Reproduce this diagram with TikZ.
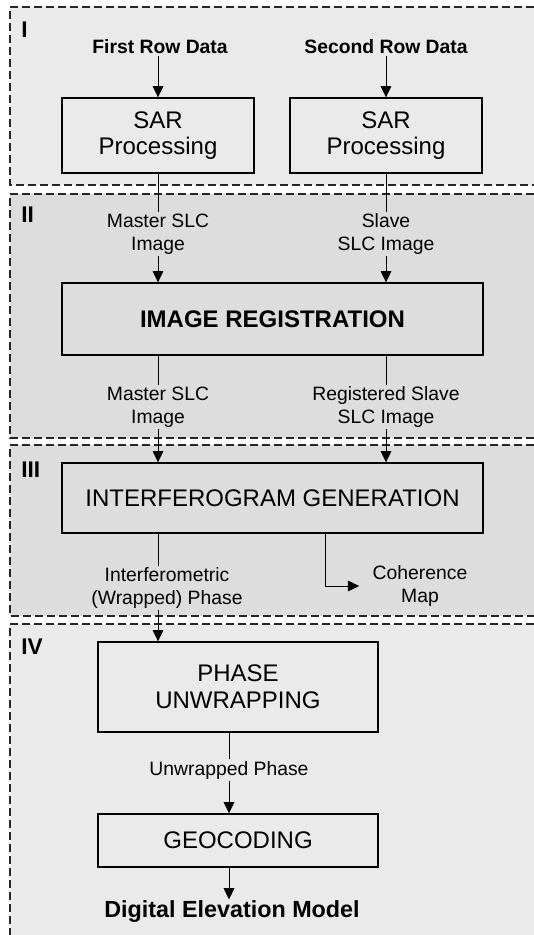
\documentclass[tikz,border=0pt]{standalone}
\usepackage{fontspec}
\setmainfont{Liberation Sans}
\usetikzlibrary{arrows.meta,positioning,calc}
\definecolor{panellight}{RGB}{234,234,234}
\definecolor{paneldark}{RGB}{221,221,221}

\begin{document}
\begin{tikzpicture}[x=0.75pt,y=-0.75pt,>={Triangle[length=8.5pt,width=8pt]},
    box/.style={draw,line width=1pt,inner sep=0pt,align=center,font=\fontsize{18}{20}\selectfont},
    lbl/.style={align=center,inner sep=1pt,font=\fontsize{14.5}{17}\selectfont},
    flow/.style={->,line width=0.75pt},
    link/.style={line width=0.75pt},
    panel/.style={draw=black!85,dash pattern=on 6pt off 3pt,line width=0.9pt},
    num/.style={anchor=north west,inner sep=0pt,font=\fontsize{17}{19}\selectfont\bfseries}]
    \useasboundingbox (0,0) rectangle (534,935);

    % the four stages, open to the right
    \fill[panellight] (10,7) rectangle (534,185);
    \fill[paneldark] (10,194) rectangle (534,438);
    \fill[paneldark] (10,445) rectangle (534,616);
    \fill[panellight] (10,624) rectangle (534,935);
    \draw[panel] (534,7) -| (10,185) -- (534,185);
    \draw[panel] (534,194) -| (10,438) -- (534,438);
    \draw[panel] (534,445) -| (10,616) -- (534,616);
    \draw[panel] (534,624) -| (10,935);
    \node[num] (st1) at (21,22) {I};
    \node[num] (st2) at (21,207) {II};
    \node[num] (st3) at (21,462) {III};
    \node[num] (st4) at (21,639) {IV};

    % I: SAR processing
    \node[lbl,font=\fontsize{14.5}{17}\selectfont\bfseries] (first) at (160,47) {First Row Data};
    \node[lbl,font=\fontsize{14.5}{17}\selectfont\bfseries] (second) at (386,47) {Second Row Data};
    \node[box,minimum width=144pt,minimum height=56.25pt] (sar1) at (158,135.5) {SAR\\Processing};
    \node[box,minimum width=144pt,minimum height=56.25pt] (sar2) at (386,135.5) {SAR\\Processing};
    \draw[flow] (sar1.north |- first.south) -- (sar1.north);
    \draw[flow] (sar2.north |- second.south) -- (sar2.north);

    % II: registration
    \node[lbl] (master1) at (158,234) {Master SLC\\Image};
    \node[lbl] (slave1) at (386,234) {Slave\\SLC Image};
    \node[box,font=\fontsize{18}{20}\selectfont\bfseries,minimum width=315.75pt,minimum height=54pt] (reg) at (272.5,319) {IMAGE REGISTRATION};
    \draw[link] (sar1.south) -- (master1.north);
    \draw[link] (sar2.south) -- (slave1.north);
    \draw[flow] (master1.south) -- (master1.south |- reg.north);
    \draw[flow] (slave1.south) -- (slave1.south |- reg.north);
    \node[lbl] (master2) at (158,407) {Master SLC\\Image};
    \node[lbl] (regslave) at (386,407) {Registered Slave\\SLC Image};
    \draw[link] (reg.south -| master2.north) -- (master2.north);
    \draw[link] (reg.south -| regslave.north) -- (regslave.north);

    % III: interferogram
    \node[box,minimum width=315.75pt,minimum height=52.5pt] (ifg) at (272.5,498) {INTERFEROGRAM GENERATION};
    \draw[flow] (master2.south) -- (master2.south |- ifg.north);
    \draw[flow] (regslave.south) -- (regslave.south |- ifg.north);
    \node[lbl] (wrapped) at (167,588) {Interferometric\\(Wrapped) Phase};
    \node[lbl] (coh) at (420,586) {Coherence\\Map};
    \coordinate (cohturn) at (325,588);
    \coordinate (phasex) at (158,588);
    \draw[link] (ifg.south -| phasex) -- (wrapped.north -| phasex);
    \draw[flow] (ifg.south -| cohturn) |- ([xshift=-9pt]coh.west);

    % IV: unwrapping and geocoding
    \node[box,minimum width=210pt,minimum height=67.5pt] (unwrap) at (238,687) {PHASE\\UNWRAPPING};
    \node[lbl] (unwrapped) at (229,770) {Unwrapped Phase};
    \node[box,minimum width=210pt,minimum height=39.75pt] (geo) at (238,840.5) {GEOCODING};
    \node[lbl,font=\fontsize{17.5}{20}\selectfont\bfseries] (dem) at (232,912) {Digital Elevation Model};
    \draw[flow] (wrapped.south -| phasex) -- (unwrap.north -| phasex);
    \draw[link] (unwrap.south -| unwrapped.north) -- (unwrapped.north);
    \draw[flow] (unwrapped.south) -- (unwrapped.south |- geo.north);
    \draw[flow] (geo.south -| unwrapped.south) -- (dem.north -| unwrapped.south);
\end{tikzpicture}
\end{document}
